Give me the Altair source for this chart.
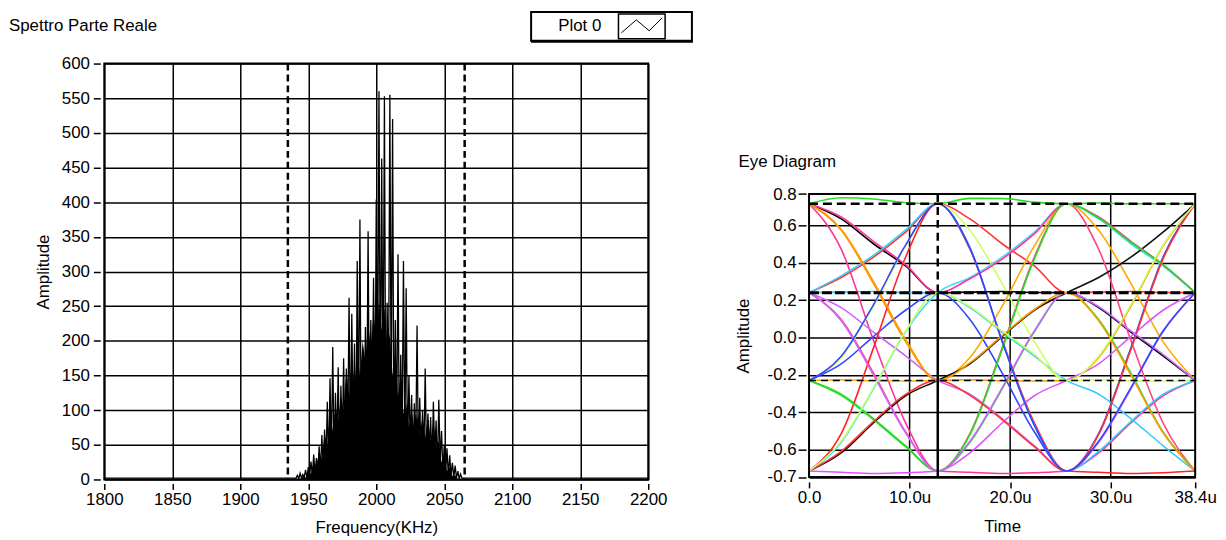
import altair as alt
import pandas as pd

FONT = "Liberation Sans"
FS = 17

# ---------------- Spectrum (left panel) ----------------
spec_freq = list(range(1941, 2064))
spec_amp = [
    2, 6, 1, 9, 2, 7, 3, 14, 2, 18,
    4, 26, 5, 36, 8, 31, 6, 48, 10, 64,
    12, 72, 20, 112, 15, 146, 30, 191, 25, 125,
    40, 162, 20, 135, 45, 175, 30, 160, 60, 262,
    40, 239, 70, 196, 35, 315, 80, 375, 20, 107,
    60, 220, 90, 358, 50, 230, 110, 291, 70, 404,
    120, 560, 80, 463, 100, 553, 60, 255, 110, 555,
    90, 520, 40, 230, 70, 325, 30, 180, 60, 315,
    45, 276, 25, 150, 50, 122, 20, 110, 40, 222,
    30, 118, 15, 100, 35, 160, 20, 95, 40, 90,
    15, 112, 35, 85, 10, 115, 25, 70, 12, 50,
    8, 45, 5, 35, 6, 24, 3, 20, 2, 12,
    1, 8, 2,
]
base_freq_lo = [1800, 1940]
base_freq_hi = [2064, 2200]
base_amp_lo = [2, 2]
base_amp_hi = [2, 2]
# dense body of the spectrum (level up to which the trace is solid black)
body_freq = list(range(1944, 2061, 2))
body_amp = [
    0, 4, 3, 12, 8, 25, 20, 40, 30, 65,
    50, 95, 70, 105, 85, 120, 100, 160, 120, 175,
    130, 190, 150, 200, 170, 225, 190, 240, 200, 260,
    215, 250, 190, 210, 150, 180, 120, 150, 95, 110,
    75, 100, 70, 95, 65, 90, 60, 90, 55, 85,
    45, 55, 25, 35, 12, 18, 5, 6, 0,
]
band_edges = [1935, 2065]
freq_ticks = list(range(1800, 2201, 50))
amp_ticks = list(range(0, 601, 50))

spec_df = pd.DataFrame({
    "freq": base_freq_lo + spec_freq + base_freq_hi,
    "amp": base_amp_lo + spec_amp + base_amp_hi,
})
body_df = pd.DataFrame({"freq": body_freq, "amp": body_amp})
band_df = pd.DataFrame({"freq": band_edges})
one = pd.DataFrame({"k": [0]})

xs_l = alt.Scale(domain=[1800, 2200], nice=False, zero=False)
ys_l = alt.Scale(domain=[0, 600], nice=False)

common_axis = dict(
    gridColor="black", gridWidth=1.5, gridOpacity=1,
    domain=False, tickColor="black", tickWidth=1.5,
    labelFont=FONT, labelFontSize=FS, labelColor="black",
    titleFont=FONT, titleFontSize=FS, titleFontWeight="normal", titleColor="black",
    labelFlush=False, labelOverlap=False,
)

ax_xl = alt.Axis(values=freq_ticks, title="Frequency(KHz)", offset=4, tickSize=6, grid=True, format="d",
                 labelPadding=2, minExtent=25, maxExtent=25, titlePadding=11, **common_axis)
ax_yl = alt.Axis(values=amp_ticks, title="Amplitude", offset=4, tickSize=7, grid=True, format="d",
                 labelPadding=4, minExtent=40, maxExtent=40, titlePadding=8, **common_axis)

body = alt.Chart(body_df).mark_area(color="black", opacity=1).encode(
    x=alt.X("freq:Q", scale=xs_l, axis=ax_xl),
    y=alt.Y("amp:Q", scale=ys_l, axis=ax_yl),
)
spectrum = alt.Chart(spec_df).mark_line(color="black", strokeWidth=1.3).encode(
    x=alt.X("freq:Q", scale=xs_l, axis=ax_xl),
    y=alt.Y("amp:Q", scale=ys_l, axis=ax_yl),
)
bands = alt.Chart(band_df).mark_rule(color="black", strokeWidth=2.5, strokeDash=[7, 4]).encode(
    x=alt.X("freq:Q", scale=xs_l, axis=ax_xl)
)

# decorations: title, legend box, invisible bound markers
title_l = alt.Chart(one).mark_text(align="left", baseline="middle", font=FONT, fontSize=FS, color="black").encode(
    x=alt.value(-96), y=alt.value(-38), text=alt.value("Spettro Parte Reale"))
leg_frame = alt.Chart(one).mark_rect(fill="white", stroke="black", strokeWidth=2).encode(
    x=alt.value(430), x2=alt.value(592), y=alt.value(-52), y2=alt.value(-23))
leg_icon = alt.Chart(one).mark_rect(fill="white", stroke="black", strokeWidth=1.5).encode(
    x=alt.value(518), x2=alt.value(565), y=alt.value(-50), y2=alt.value(-25))
leg_shadow_b = alt.Chart(one).mark_rule(color="black", strokeWidth=2).encode(
    x=alt.value(430), x2=alt.value(593), y=alt.value(-22))
leg_z1 = alt.Chart(one).mark_rule(color="black", strokeWidth=1).encode(
    x=alt.value(521), x2=alt.value(536), y=alt.value(-31), y2=alt.value(-44))
leg_z2 = alt.Chart(one).mark_rule(color="black", strokeWidth=1).encode(
    x=alt.value(536), x2=alt.value(549), y=alt.value(-44), y2=alt.value(-33))
leg_z3 = alt.Chart(one).mark_rule(color="black", strokeWidth=1).encode(
    x=alt.value(549), x2=alt.value(562), y=alt.value(-33), y2=alt.value(-46))
leg_text = alt.Chart(one).mark_text(align="center", baseline="middle", font=FONT, fontSize=FS, color="black").encode(
    x=alt.value(479), y=alt.value(-38), text=alt.value("Plot 0"))
bound_l = alt.Chart(one).mark_rule(strokeOpacity=0, strokeWidth=1).encode(
    x=alt.value(-96), x2=alt.value(600), y=alt.value(-53))

left = alt.layer(
    body, spectrum, bands, title_l, leg_frame, leg_shadow_b, leg_icon, leg_z1, leg_z2, leg_z3, leg_text, bound_l
).properties(width=548, height=419)

# ---------------- Eye diagram (right panel) ----------------
eye_t = [0.0, 3.2, 6.4, 9.6, 12.8, 16.0, 19.2, 22.4, 25.6, 28.8, 32.0, 35.2, 38.4]
eye_traces = {
    "t0": [0.716, 0.748, 0.742, 0.722, 0.716, 0.745, 0.744, 0.725, 0.716, 0.720, 0.716, 0.716, 0.716],
    "t1": [0.716, 0.635, 0.502, 0.383, 0.240, 0.243, 0.246, 0.241, 0.240, 0.160, 0.029, -0.098, -0.230],
    "t2": [0.716, 0.574, 0.290, -0.022, -0.230, -0.226, -0.232, -0.233, -0.230, -0.107, 0.167, 0.489, 0.716],
    "t3": [0.716, 0.473, -0.014, -0.457, -0.715, -0.722, -0.728, -0.724, -0.715, -0.618, -0.458, -0.312, -0.230],
    "t4": [0.240, 0.321, 0.430, 0.564, 0.716, 0.635, 0.502, 0.383, 0.240, 0.243, 0.246, 0.241, 0.240],
    "t5": [0.240, 0.243, 0.246, 0.241, 0.240, 0.160, 0.029, -0.098, -0.230, -0.303, -0.434, -0.579, -0.715],
    "t6": [0.240, 0.160, 0.029, -0.098, -0.230, -0.303, -0.434, -0.579, -0.715, -0.562, -0.276, 0.030, 0.240],
    "t7": [0.240, 0.097, -0.190, -0.505, -0.715, -0.515, -0.057, 0.430, 0.716, 0.473, -0.014, -0.457, -0.715],
    "t8": [-0.230, -0.107, 0.167, 0.489, 0.716, 0.574, 0.290, -0.022, -0.230, -0.226, -0.232, -0.233, -0.230],
    "t9": [-0.230, -0.141, 0.005, 0.146, 0.240, 0.097, -0.190, -0.505, -0.715, -0.515, -0.057, 0.430, 0.716],
    "t10": [-0.230, -0.226, -0.232, -0.233, -0.230, -0.107, 0.167, 0.489, 0.716, 0.574, 0.290, -0.022, -0.230],
    "t11": [-0.230, -0.303, -0.434, -0.579, -0.715, -0.562, -0.276, 0.030, 0.240, 0.097, -0.190, -0.505, -0.715],
    "t12": [-0.715, -0.515, -0.057, 0.430, 0.716, 0.473, -0.014, -0.457, -0.715, -0.722, -0.728, -0.724, -0.715],
    "t13": [-0.715, -0.562, -0.276, 0.030, 0.240, 0.321, 0.430, 0.564, 0.716, 0.635, 0.502, 0.383, 0.240],
    "t14": [-0.715, -0.618, -0.458, -0.312, -0.230, -0.141, 0.005, 0.146, 0.240, 0.321, 0.430, 0.564, 0.716],
    "t15": [-0.715, -0.722, -0.728, -0.724, -0.715, -0.618, -0.458, -0.312, -0.230, -0.141, 0.005, 0.146, 0.240],
    "t16": [0.716, 0.645, 0.515, 0.390, 0.240, 0.315, 0.420, 0.555, 0.716, 0.645, 0.515, 0.390, 0.240],
    "t17": [0.240, 0.330, 0.440, 0.575, 0.716, 0.480, -0.020, -0.470, -0.715, -0.610, -0.450, -0.305, -0.230],
    "t18": [-0.230, -0.310, -0.440, -0.585, -0.715, -0.520, -0.065, 0.420, 0.716, 0.640, 0.510, 0.390, 0.240],
    "t19": [-0.715, -0.610, -0.450, -0.305, -0.230, -0.310, -0.440, -0.585, -0.715, -0.520, -0.065, 0.420, 0.716],
    "t20": [0.240, 0.090, -0.200, -0.510, -0.715, -0.555, -0.270, 0.035, 0.240, 0.165, 0.035, -0.090, -0.230],
    "t21": [0.716, 0.580, 0.300, -0.010, -0.230, -0.135, 0.010, 0.150, 0.240, 0.090, -0.200, -0.510, -0.715],
    "t22": [-0.230, -0.100, 0.175, 0.495, 0.716, 0.480, -0.020, -0.470, -0.715, -0.555, -0.270, 0.035, 0.240],
    "t23": [-0.715, -0.555, -0.270, 0.035, 0.240, 0.165, 0.035, -0.090, -0.230, -0.100, 0.175, 0.495, 0.716],
}
eye_colors = [
    "#22dd22", "#000000", "#ff9900", "#ff3399", "#ff3333", "#33ccff", "#cc66ff", "#ff4488",
    "#ccff66", "#3344ff", "#ffaa00", "#33dd33", "#ff2222", "#44ddff", "#111111", "#dd55ff",
    "#ff3399", "#33ccff", "#22dd22", "#ff3333", "#cc66ff", "#ff9900", "#3344ff", "#ccff66",
]
eye_levels = [0.716, 0.240, -0.230]
cursor_t = [12.8]
time_ticks = [0, 10, 20, 30, 38.4]
time_grid = [10, 20, 30]
eye_y_ticks = [-0.747, -0.6, -0.4, -0.2, 0.0, 0.2, 0.4, 0.6, 0.768]
y_min, y_max = -0.747, 0.768
# extra headroom above the plot frame (room for the panel title, aligned with the left panel)
y_top = 1.467

rows = []
for name, vals in eye_traces.items():
    for t, v in zip(eye_t, vals):
        rows.append({"trace": name, "t": t, "v": v})
eye_df = pd.DataFrame(rows)

xs_r = alt.Scale(domain=[0, 38.4], nice=False, zero=False)
ys_r = alt.Scale(domain=[y_min, y_top], nice=False, zero=False)

ax_xr = alt.Axis(values=time_ticks, title="Time", offset=5, tickSize=6, labelPadding=2, grid=False,
                 minExtent=25, maxExtent=25, titlePadding=12,
                 labelExpr="datum.value == 0 ? '0.0' : format(datum.value, '.1f') + 'u'", **common_axis)
ax_yr = alt.Axis(values=eye_y_ticks, title="Amplitude", offset=3, tickSize=8, labelPadding=2, grid=True,
                 minExtent=40, maxExtent=40, titlePadding=14, titleY=274,
                 labelExpr="(datum.value < 0 ? '-' : '') + format(abs(datum.value), '.1f')", **common_axis)


def X(field):
    return alt.X(field, scale=xs_r, axis=ax_xr)


def Y(field):
    return alt.Y(field, scale=ys_r, axis=ax_yr)


frame_df = pd.DataFrame({"t": [0.0], "t2": [38.4], "v": [y_min], "v2": [y_max]})
vgrid_df = pd.DataFrame({"t": time_grid, "v": [y_min] * 3, "v2": [y_max] * 3})

vgrid = alt.Chart(vgrid_df).mark_rule(color="black", strokeWidth=1.5).encode(
    x=X("t:Q"), y=Y("v:Q"), y2="v2:Q")

traces = alt.Chart(eye_df).mark_line(interpolate="monotone", strokeWidth=1.6).encode(
    x=X("t:Q"),
    y=Y("v:Q"),
    color=alt.Color("trace:N", scale=alt.Scale(domain=list(eye_traces.keys()), range=eye_colors), legend=None),
    order="t:Q",
)

lvl_df = pd.DataFrame({"v": eye_levels, "t": [0.0] * 3, "t2": [38.4] * 3})
lvl_top = alt.Chart(lvl_df.iloc[[0]]).mark_rule(color="black", strokeWidth=2.5, strokeDash=[9, 5]).encode(
    y=Y("v:Q"), x=X("t:Q"), x2="t2:Q")
lvl_mid = alt.Chart(lvl_df.iloc[[1]]).mark_rule(color="black", strokeWidth=3, strokeDash=[10, 3]).encode(
    y=Y("v:Q"), x=X("t:Q"), x2="t2:Q")
lvl_low = alt.Chart(lvl_df.iloc[[2]]).mark_rule(color="black", strokeWidth=1.5, strokeDash=[7, 5]).encode(
    y=Y("v:Q"), x=X("t:Q"), x2="t2:Q")

cur_df = pd.DataFrame({"t": cursor_t, "v": [y_max], "vm": [0.240], "vb": [y_min]})
cur_dash = alt.Chart(cur_df).mark_rule(color="black", strokeWidth=2.5, strokeDash=[8, 5]).encode(
    x=X("t:Q"), y=Y("v:Q"), y2="vm:Q")
cur_solid = alt.Chart(cur_df).mark_rule(color="black", strokeWidth=2.5).encode(
    x=X("t:Q"), y=Y("vm:Q"), y2="vb:Q")

frame = alt.Chart(frame_df).mark_rect(fillOpacity=0, stroke="black", strokeWidth=2).encode(
    x=X("t:Q"), x2="t2:Q", y=Y("v:Q"), y2="v2:Q")

title_r = alt.Chart(one).mark_text(align="left", baseline="middle", font=FONT, fontSize=FS, color="black").encode(
    x=alt.value(-71), y=alt.value(99), text=alt.value("Eye Diagram"))
bound_r = alt.Chart(one).mark_rule(strokeOpacity=0, strokeWidth=1).encode(
    x=alt.value(-72), x2=alt.value(-60), y=alt.value(100))

right = alt.layer(
    vgrid, traces, lvl_top, lvl_mid, lvl_low, cur_dash, cur_solid, frame, title_r, bound_r
).properties(width=389, height=416.5, view=alt.ViewBackground(stroke="transparent"))

chart = alt.hconcat(left, right, spacing=33).properties(padding=0).configure_view(
    stroke="black", strokeWidth=2
)

chart.save("out.html", embed_options={"renderer": "svg", "actions": False})
